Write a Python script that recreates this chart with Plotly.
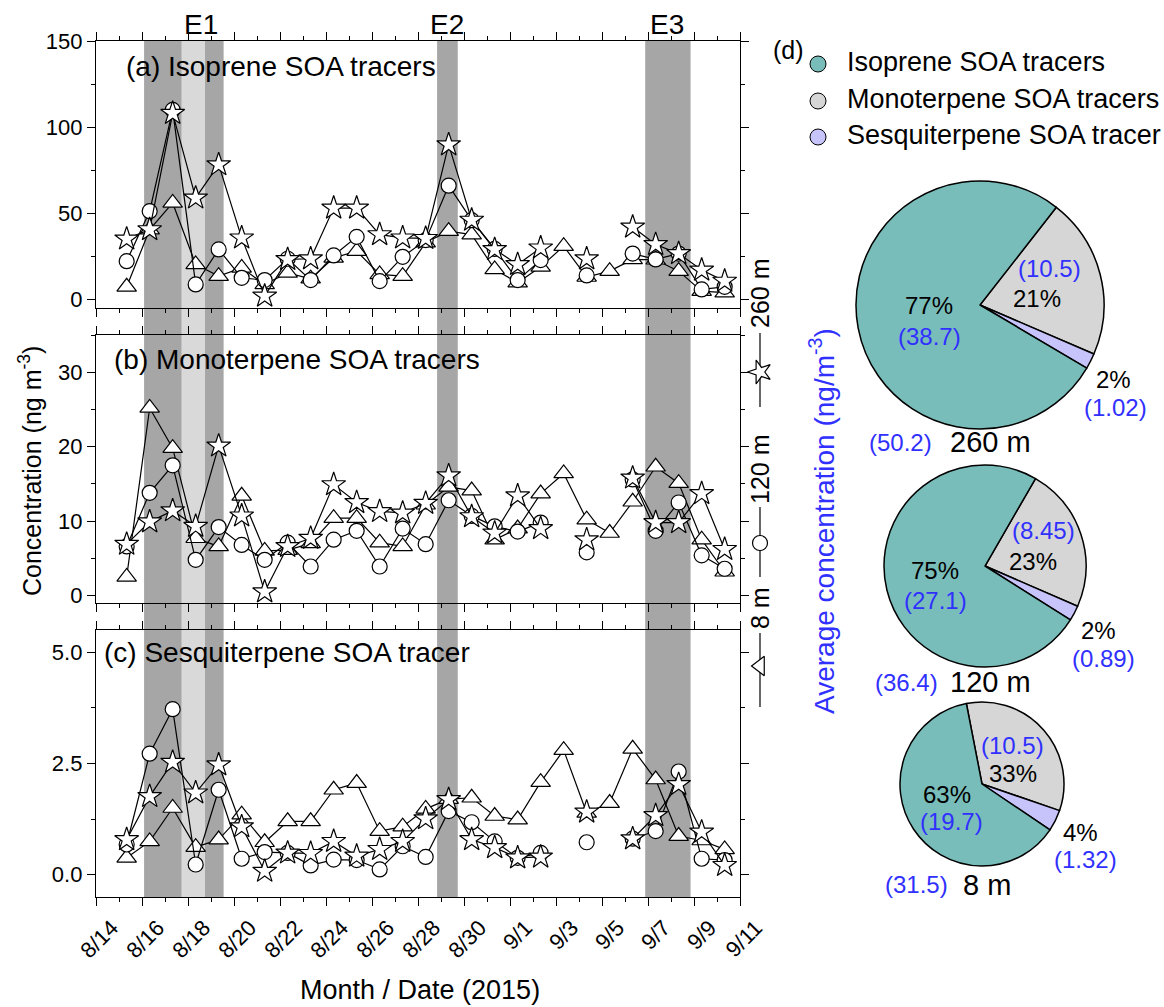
import plotly.graph_objects as go

W, H = 1164, 1007

# ---------------- data ----------------
dates = ["2015-08-15 08:00", "2015-08-16 08:00", "2015-08-17 08:00", "2015-08-18 08:00",
         "2015-08-19 08:00", "2015-08-20 08:00", "2015-08-21 08:00", "2015-08-22 08:00",
         "2015-08-23 08:00", "2015-08-24 08:00", "2015-08-25 08:00", "2015-08-26 08:00",
         "2015-08-27 08:00", "2015-08-28 08:00", "2015-08-29 08:00", "2015-08-30 08:00",
         "2015-08-31 08:00", "2015-09-01 08:00", "2015-09-02 08:00", "2015-09-03 08:00",
         "2015-09-04 08:00", "2015-09-05 08:00", "2015-09-06 08:00", "2015-09-07 08:00",
         "2015-09-08 08:00", "2015-09-09 08:00", "2015-09-10 08:00"]

iso_260 = [35.1, 40.5, 108, 58.9, 78.2, 35.7, 1.9, 23.2, 23.6, 53, 53, 37.6, 35.7, 35.4,
           89.8, 46, 29, 20.3, 29.9, None, 23.6, None, 42, 31.9, 26.6, 17, 10.6]
iso_120 = [22.2, 51.2, 110, 8.7, 29, 12.5, 11.2, 23.6, 11.2, 25.5, 36.3, 10.6, 24.7, 34.4,
           66, 46, 29.3, 11.2, 22.8, None, 13.9, None, 26.6, 23.2, 26.6, 5.8, 7.3]
iso_8 = [7.3, 40.5, 56, 20.3, 13.5, 18.3, 8.7, 15.4, 12, 24.1, 28, 14.5, 13.5, 33,
         39.6, 37.6, 17.4, 9.7, 18.9, 30.9, 13, 16.4, 23.2, 23, 16.4, 4.8, 3.9]

mono_260 = [6.9, 9.9, 11.4, 9.3, 20.1, 10.7, 0.5, 6.6, 7.7, 14.9, 12.5, 11.3, 11.1, 12.4,
            16.1, 10.6, 8.4, 13.4, 9.0, None, 7.5, None, 15.8, 9.8, 9.8, 13.7, 6.2]
mono_120 = [6.6, 13.8, 17.5, 4.8, 9.2, 6.8, 4.8, 7.1, 3.9, 7.5, 8.7, 3.9, 9.0, 6.9,
            12.8, 10.7, 9.3, 8.6, 9.8, None, 5.8, None, 15.6, 8.7, 12.5, 5.4, 3.6]
mono_8 = [2.5, 25.2, 19.8, 7.7, 6.6, 13.4, 6.0, 6.1, 7.0, 10.4, 10.4, 7.1, 6.6, 12.2,
          14.6, 14.1, 7.5, 9.0, 13.7, 16.4, 10.2, 8.4, 12.6, 17.3, 15.1, 7.5, 3.2]

sesq_260 = [0.79, 1.76, 2.53, 1.84, 2.47, 1.08, 0.08, 0.49, 0.48, 0.75, 0.42, 0.57, 0.75, 1.26,
            1.69, 0.79, 0.61, 0.38, 0.40, None, 1.41, None, 0.81, 1.33, 2.03, 0.96, 0.21]
sesq_120 = [0.68, 2.72, 3.72, 0.23, 1.91, 0.36, 0.51, 0.49, 0.21, 0.34, 0.33, 0.12, 0.64, 0.40,
            1.43, 1.18, 0.75, 0.38, 0.49, None, 0.73, None, 0.81, 0.98, 2.32, 0.36, 0.33]
sesq_8 = [0.38, 0.75, 1.50, 0.62, 0.79, 1.35, 0.73, 1.20, 1.20, 1.91, 2.06, 0.98, 1.08, 1.48,
          1.70, 1.73, 1.32, 1.24, 2.08, 2.80, 1.39, 1.61, 2.83, 2.14, 0.87, 0.77, 0.57]

# episodes (start, end, shade)
episodes = [("2015-08-16 02:10", "2015-08-17 17:30", "dark"),
            ("2015-08-17 17:30", "2015-08-18 17:45", "light"),
            ("2015-08-18 17:45", "2015-08-19 13:10", "dark"),
            ("2015-08-28 19:55", "2015-08-29 17:30", "dark"),
            ("2015-09-06 21:05", "2015-09-08 20:25", "dark")]
episode_names = ["E1", "E2", "E3"]

panel_titles = ["(a) Isoprene SOA tracers", "(b) Monoterpene SOA tracers", "(c) Sesquiterpene SOA tracer"]
heights = ["260 m", "120 m", "8 m"]
species = ["Isoprene SOA tracers", "Monoterpene SOA tracers", "Sesquiterpene SOA tracer"]
avg_iso = [38.7, 27.1, 19.7]
avg_mono = [10.5, 8.45, 10.5]
avg_sesq = [1.02, 0.89, 1.32]
avg_total = [50.2, 36.4, 31.5]
pct_iso = ["77%", "75%", "63%"]
pct_mono = ["21%", "23%", "33%"]
pct_sesq = ["2%", "2%", "4%"]

# ---------------- helpers ----------------
def px(x):
    return x / W

def py(y):
    return 1 - y / H

FONT = "Arial, Liberation Sans, sans-serif"
BLUE = "#3030FF"
C_ISO, C_MONO, C_SESQ = "#79BDBA", "#D6D6D6", "#C6C4FA"
DARK, LIGHT = "#A6A6A6", "#D9D9D9"

fig = go.Figure()

# panel geometry (pixels)
xl, xr = 96, 740
panels = [(41, 308, [-5, 150], 50, 25, None),
          (335, 603, [-1, 35], 10, 5, None),
          (630, 897, [-0.5, 5.5], 2.5, 1.25, ".1f")]
series = [(iso_8, iso_120, iso_260), (mono_8, mono_120, mono_260), (sesq_8, sesq_120, sesq_260)]

for k, ((yt, yb, yr, dt, mdt, fmt), (s8, s120, s260)) in enumerate(zip(panels, series)):
    n = "" if k == 0 else str(k + 1)
    xa, ya = "x" + n, "y" + n
    for vals, sym, size in [(s8, "triangle-up", 17), (s120, "circle", 15), (s260, "star", 18)]:
        fig.add_trace(go.Scatter(
            x=dates, y=vals, mode="lines+markers", xaxis=xa, yaxis=ya,
            line=dict(color="black", width=1.2), connectgaps=False,
            marker=dict(symbol=sym, size=size, color="white", line=dict(color="black", width=1.2)),
            showlegend=False, hoverinfo="skip"))
    common_ax = dict(showline=True, linecolor="black", linewidth=1.3, mirror="allticks",
                     ticks="outside", ticklen=8, tickwidth=1.2, tickcolor="black",
                     showgrid=False, zeroline=False, automargin=False,
                     tickfont=dict(family=FONT, size=22, color="black"))
    fig.layout["xaxis" + n] = dict(
        common_ax, type="date", domain=[px(xl), px(xr)], anchor=ya,
        range=["2015-08-14", "2015-09-11"], tick0="2015-08-14", dtick=2 * 86400000,
        tickformat="%-m/%-d", tickangle=-45, showticklabels=(k == 2), ticklabelshift=16,
        minor=dict(dtick=86400000, ticklen=4, tickwidth=1.2, tickcolor="black", ticks="outside"))
    fig.layout["yaxis" + n] = dict(
        common_ax, domain=[py(yb), py(yt)], anchor=xa, range=yr, dtick=dt, tick0=0,
        tickformat=fmt,
        minor=dict(dtick=mdt, ticklen=4, tickwidth=1.2, tickcolor="black", ticks="outside"))

# episode shading
for (s, e, shade) in episodes:
    fig.add_shape(type="rect", xref="x", yref="paper", x0=s, x1=e, y0=py(897), y1=py(41),
                  fillcolor=DARK if shade == "dark" else LIGHT, line=dict(width=0), layer="below")

# overlay pixel axis for annotations and legend glyphs
fig.layout["xaxis4"] = dict(domain=[0, 1], range=[0, W], visible=False, anchor="y4",
                            fixedrange=True, automargin=False)
fig.layout["yaxis4"] = dict(domain=[0, 1], range=[H, 0], visible=False, anchor="x4",
                            fixedrange=True, automargin=False)

def ann(text, x, y, size=24, color="black", angle=0, xanchor="center"):
    fig.add_annotation(text=text, x=x, y=y, xref="x4", yref="y4", showarrow=False,
                       font=dict(family=FONT, size=size, color=color), textangle=angle,
                       xanchor=xanchor, yanchor="middle")

# panel titles
for t, (x, y) in zip(panel_titles, [(124, 66), (112, 359), (102, 652)]):
    ann(t, x, y, size=28, xanchor="left")
for t, x in zip(episode_names, [201, 447, 667]):
    ann(t, x, 24, size=28)

ann("Concentration (ng m<sup>-3</sup>)", 30, 471, size=25, angle=-90)
ann("Month / Date (2015)", 420, 990, size=27)

# right-side height legend (rotated)
for t, y in zip(heights, [294, 470, 608]):
    ann(t, 760, y, size=25, angle=-90)
for (y0, y1, ym, sym, sz, ang) in [(333, 407, 372, "star", 18, -90),
                                   (507, 577, 543, "circle", 15, 0),
                                   (633, 707, 666, "triangle-left", 17, 0)]:
    fig.add_trace(go.Scatter(x=[760, 760], y=[y0, y1], mode="lines", xaxis="x4", yaxis="y4",
                             line=dict(color="black", width=1.2), showlegend=False, hoverinfo="skip"))
    fig.add_trace(go.Scatter(x=[760], y=[ym], mode="markers", xaxis="x4", yaxis="y4",
                             marker=dict(symbol=sym, size=sz, angle=ang, color="white",
                                         line=dict(color="black", width=1.2)),
                             showlegend=False, hoverinfo="skip"))

# (d) legend
ann("(d)", 788, 50, size=25)
for sp, col, y in zip(species, [C_ISO, C_MONO, C_SESQ], [64, 101, 137]):
    fig.add_trace(go.Scatter(x=[818], y=[y], mode="markers", xaxis="x4", yaxis="y4",
                             marker=dict(symbol="circle", size=16, color=col,
                                         line=dict(color="black", width=1)),
                             showlegend=False, hoverinfo="skip"))
    ann(sp, 845, y - 2, size=27, xanchor="left")

ann("Average concentration (ng/m<sup>-3</sup>)", 822, 521, size=28, color=BLUE, angle=-90)

# pies
pie_geo = [(980, 305, 124, 38), (985, 566, 101, 30), (982, 784, 82, -11)]
for i, (cx, cy, r, rot) in enumerate(pie_geo):
    fig.add_trace(go.Pie(values=[avg_mono[i], avg_sesq[i], avg_iso[i]], labels=species[1:] + species[:1],
                         sort=False, direction="clockwise", rotation=rot, textinfo="none",
                         hoverinfo="skip", showlegend=False, automargin=False,
                         marker=dict(colors=[C_MONO, C_SESQ, C_ISO], line=dict(color="black", width=1.5)),
                         domain=dict(x=[px(cx - r), px(cx + r)], y=[py(cy + r), py(cy - r)])))

pie_text = [
    [(f"({avg_mono[0]})", 1049, 268, BLUE), (pct_mono[0], 1037, 298, "black"),
     (pct_iso[0], 929, 305, "black"), (f"({avg_iso[0]})", 929, 336, BLUE),
     (pct_sesq[0], 1113, 379, "black"), (f"({avg_sesq[0]})", 1115, 407, BLUE),
     (f"({avg_total[0]})", 900, 442, BLUE)],
    [(f"({avg_mono[1]})", 1043, 530, BLUE), (pct_mono[1], 1033, 561, "black"),
     (pct_iso[1], 935, 570, "black"), (f"({avg_iso[1]})", 935, 600, BLUE),
     (pct_sesq[1], 1098, 630, "black"), (f"({avg_sesq[1]})", 1103, 658, BLUE),
     (f"({avg_total[1]})", 906, 682, BLUE)],
    [(f"({avg_mono[2]})", 1012, 745, BLUE), (pct_mono[2], 1013, 773, "black"),
     (pct_iso[2], 947, 794, "black"), (f"({avg_iso[2]})", 951, 821, BLUE),
     (pct_sesq[2], 1080, 832, "black"), (f"({avg_sesq[2]})", 1085, 859, BLUE),
     (f"({avg_total[2]})", 916, 884, BLUE)],
]
for group in pie_text:
    for (t, x, y, c) in group:
        ann(t, x, y, size=24, color=c)
for t, (x, y) in zip(heights, [(990, 442), (990, 682), (987, 885)]):
    ann(t, x, y, size=29)

fig.update_layout(width=W, height=H, margin=dict(l=0, r=0, t=0, b=0, pad=0, autoexpand=False),
                  paper_bgcolor="white", plot_bgcolor="rgba(0,0,0,0)",
                  font=dict(family=FONT, color="black"))

fig.write_html("out.html", config={"displayModeBar": False},
               post_script="document.body.style.margin='0px';document.body.style.overflow='hidden';")
